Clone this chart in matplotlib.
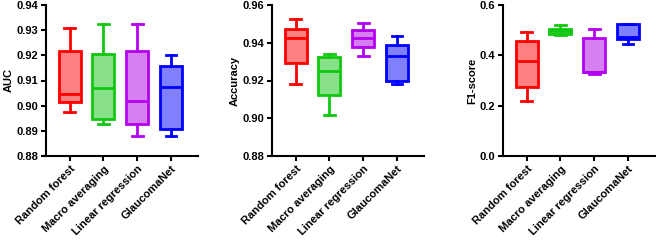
import matplotlib.pyplot as plt
import numpy as np

plt.rcParams['font.family'] = ['Liberation Sans', 'DejaVu Sans']
plt.rcParams['font.weight'] = 'bold'

methods = ["Random forest", "Macro averaging", "Linear regression", "GlaucomaNet"]
edge_colors = ["#ff0000", "#10c810", "#b400f0", "#0000ff"]
face_colors = ["#ff8080", "#88e088", "#d580f0", "#8080ff"]

# box stats per method: whisker low, q1, median, q3, whisker high
auc_lo = [0.8974, 0.8927, 0.8879, 0.8879]
auc_q1 = [0.9014, 0.8948, 0.8929, 0.8908]
auc_med = [0.9046, 0.9069, 0.9019, 0.9075]
auc_q3 = [0.9217, 0.9204, 0.9217, 0.9159]
auc_hi = [0.9310, 0.9323, 0.9323, 0.9202]

acc_lo = [0.9179, 0.9016, 0.9332, 0.9179]
acc_q1 = [0.9291, 0.9121, 0.9379, 0.9199]
acc_med = [0.9427, 0.9252, 0.9427, 0.9328]
acc_q3 = [0.9475, 0.9322, 0.9468, 0.9386]
acc_hi = [0.9524, 0.9339, 0.9505, 0.9434]

f1_lo = [0.218, 0.480, 0.327, 0.447]
f1_q1 = [0.274, 0.483, 0.332, 0.465]
f1_med = [0.376, 0.496, 0.335, 0.473]
f1_q3 = [0.455, 0.503, 0.468, 0.524]
f1_hi = [0.493, 0.519, 0.506, 0.526]

panels = [
    ("AUC", auc_lo, auc_q1, auc_med, auc_q3, auc_hi, (0.88, 0.94), np.arange(0.88, 0.9401, 0.01), "%.2f"),
    ("Accuracy", acc_lo, acc_q1, acc_med, acc_q3, acc_hi, (0.88, 0.96), np.arange(0.88, 0.9601, 0.02), "%.2f"),
    ("F1-score", f1_lo, f1_q1, f1_med, f1_q3, f1_hi, (0.0, 0.6), np.arange(0.0, 0.601, 0.2), "%.1f"),
]

fig = plt.figure(figsize=(6.6, 2.52), dpi=100)
lefts = [46, 272, 503]
for (label, lo, q1, med, q3, hi, ylim, yt, fmt), left in zip(panels, lefts):
    ax = fig.add_axes([left / 660, 1 - 156 / 252, 152 / 660, 151 / 252])
    for i in range(4):
        ec = edge_colors[i]
        st = dict(whislo=lo[i], q1=q1[i], med=med[i], q3=q3[i], whishi=hi[i], fliers=[])
        ax.bxp([st], positions=[i + 1], widths=0.65, patch_artist=True, showfliers=False,
               boxprops=dict(facecolor=face_colors[i], edgecolor=ec, linewidth=2),
               medianprops=dict(color=ec, linewidth=2),
               whiskerprops=dict(color=ec, linewidth=2),
               capprops=dict(color=ec, linewidth=2),
               capwidths=0.32)
    ax.set_xlim(0.3, 4.8)
    ax.set_ylim(*ylim)
    ax.set_yticks(yt)
    ax.set_yticklabels([fmt % v for v in yt], fontsize=8, fontweight='bold')
    ax.set_xticks(range(1, 5))
    ax.set_xticklabels(methods, rotation=45, ha='right', rotation_mode='anchor', fontsize=8, fontweight='bold')
    ax.set_ylabel(label, fontsize=8, fontweight='bold', labelpad=2)
    for s in ['top', 'right']:
        ax.spines[s].set_visible(False)
    for s in ['left', 'bottom']:
        ax.spines[s].set_linewidth(1.5)
    ax.tick_params(width=1.5, length=3.5, pad=2)

fig.savefig("out.png", dpi=100)
